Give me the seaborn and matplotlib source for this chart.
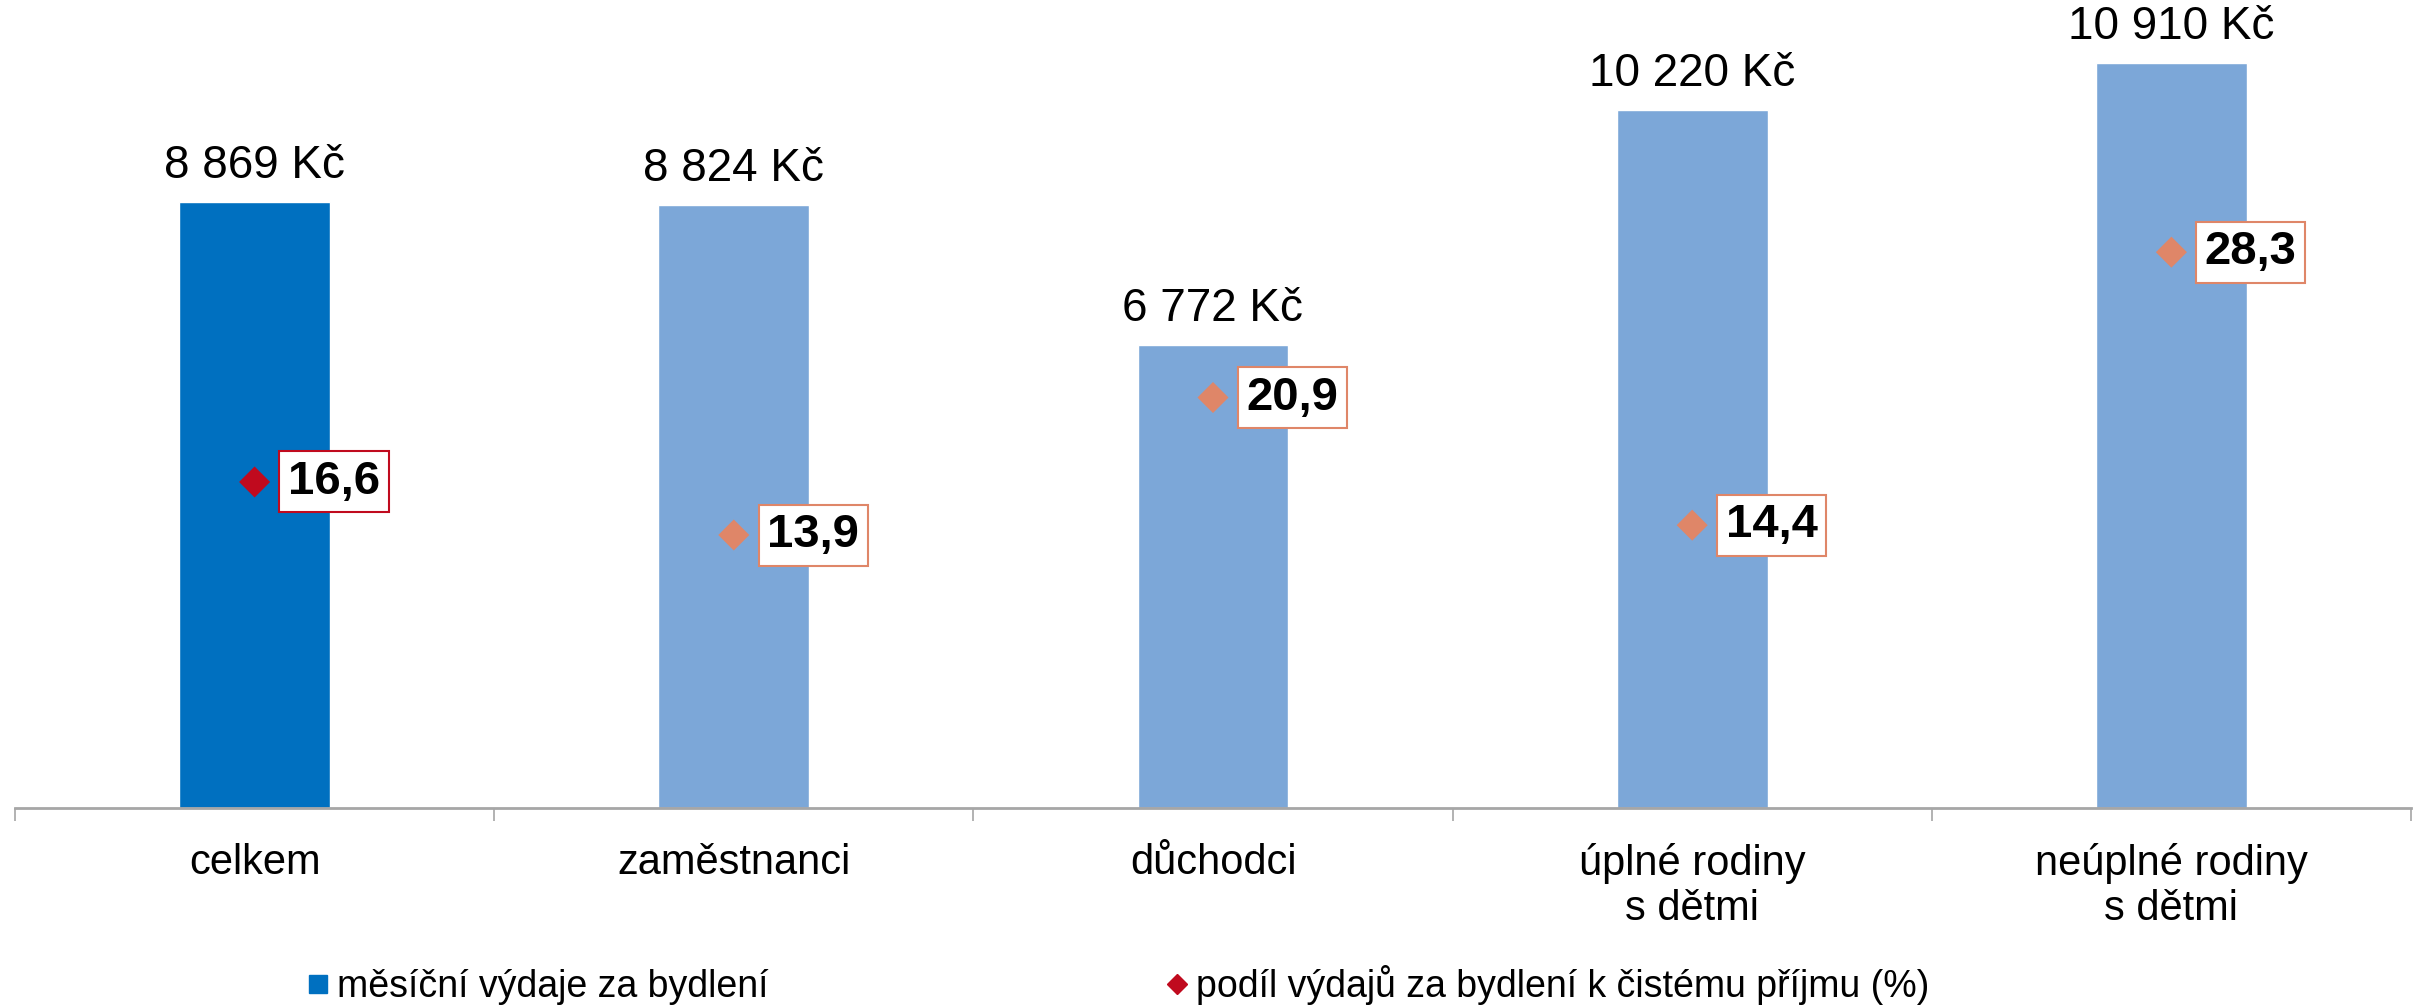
import numpy as np
import matplotlib
matplotlib.use("Agg")
import matplotlib.pyplot as plt
from matplotlib.lines import Line2D
import seaborn as sns

# data
kategorie = ["celkem", "zaměstnanci", "důchodci", "úplné rodiny\ns dětmi", "neúplné rodiny\ns dětmi"]
vydaje = [8869, 8824, 6772, 10220, 10910]          # měsíční výdaje za bydlení (Kč)
podil = [16.6, 13.9, 20.9, 14.4, 28.3]             # podíl výdajů k čistému příjmu (%)
podil_labels = ["16,6", "13,9", "20,9", "14,4", "28,3"]

bar_colors = ["#0070C0", "#7CA7D8", "#7CA7D8", "#7CA7D8", "#7CA7D8"]
dot_colors = ["#C00A1E", "#DF8668", "#DF8668", "#DF8668", "#DF8668"]

sns.set_theme(style="white")
plt.rcParams["font.family"] = ["Liberation Sans", "DejaVu Sans"]
plt.rcParams["text.color"] = "black"
plt.rcParams["xtick.color"] = "black"

fig = plt.figure(figsize=(24.16, 10.08), dpi=100)
ax = fig.add_axes([15 / 2416, 200 / 1008, 2396 / 2416, 808 / 1008])

x = np.arange(len(kategorie))
sns.barplot(x=x, y=vydaje, hue=x, palette=bar_colors, legend=False,
            width=0.315, saturation=1, ax=ax)
ax.set_xlim(-0.5, len(kategorie) - 0.5)
ax.set_ylim(0, 11825)

for cont in ax.containers:
    ax.bar_label(cont, labels=[f"{v:,.0f} Kč".replace(",", " ") for v in cont.datavalues],
                 padding=10, fontsize=33, color="black")

ax.set_xticks(x)
ax.set_xticklabels(kategorie, fontsize=30, linespacing=1.17, color="black")
ax.set_xticks(np.arange(-0.5, len(kategorie)), minor=True)
ax.tick_params(axis="x", which="major", length=0, pad=25)
ax.tick_params(axis="x", which="minor", length=9, width=1.2, color="#A6A6A6", bottom=True)
ax.set_yticks([])
ax.set_xlabel("")
ax.set_ylabel("")
for s in ["top", "left", "right"]:
    ax.spines[s].set_visible(False)
ax.spines["bottom"].set_color("#A6A6A6")
ax.spines["bottom"].set_linewidth(2)

# second axis for the share in %
ax2 = ax.twinx()
sns.scatterplot(x=x, y=podil, hue=x, palette=dot_colors, marker="D", s=250,
                linewidth=0, legend=False, ax=ax2)
ax2.set_ylim(0, 41.14)
ax2.set_yticks([])
ax2.set_ylabel("")
for s in ax2.spines.values():
    s.set_visible(False)

for xi, yi, lab, c in zip(x, podil, podil_labels, dot_colors):
    ax2.annotate(lab, (xi, yi), xytext=(24, 0), textcoords="offset points",
                 ha="left", va="center", fontsize=34, fontweight="bold", color="black",
                 bbox=dict(boxstyle="square,pad=0.18", fc="white", ec=c, lw=1.5))

handles = [
    Line2D([], [], marker="s", color="#0070C0", linestyle="none", markersize=13.5),
    Line2D([], [], marker="D", color="#C00A1E", linestyle="none", markersize=10),
]
leg = fig.legend(handles, ["měsíční výdaje za bydlení", "podíl výdajů za bydlení k čistému příjmu (%)"],
                 loc="center left", bbox_to_anchor=(288 / 2416, 23 / 1008), ncol=2,
                 frameon=False, fontsize=27, borderpad=0, handlelength=0.6,
                 handletextpad=0.2, columnspacing=10.6)
for t in leg.get_texts():
    t.set_color("black")

fig.savefig("out.png", dpi=100)
